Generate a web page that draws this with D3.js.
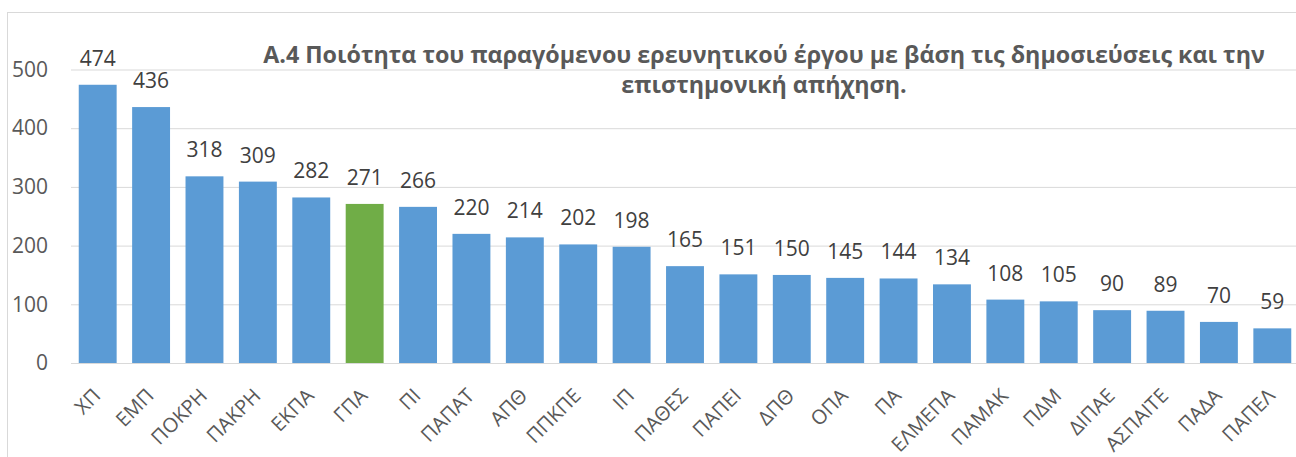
<!DOCTYPE html>
<html>
<head>
<meta charset="utf-8">
<script src="https://cdn.jsdelivr.net/npm/d3@7"></script>
<style>
  body { margin: 0; background: #fff; }
  svg { display: block; font-family: "Open Sans", sans-serif; }
</style>
</head>
<body>
<svg id="chart" width="1296" height="457"></svg>
<script>
// data
const categories = ["ΧΠ", "ΕΜΠ", "ΠΟΚΡΗ", "ΠΑΚΡΗ", "ΕΚΠΑ", "ΓΠΑ", "ΠΙ", "ΠΑΠΑΤ", "ΑΠΘ", "ΠΠΚΠΕ", "ΙΠ",
    "ΠΑΘΕΣ", "ΠΑΠΕΙ", "ΔΠΘ", "ΟΠΑ", "ΠΑ", "ΕΛΜΕΠΑ", "ΠΑΜΑΚ", "ΠΔΜ", "ΔΙΠΑΕ", "ΑΣΠΑΙΤΕ", "ΠΑΔΑ", "ΠΑΠΕΛ"];
const values = [474, 436, 318, 309, 282, 271, 266, 220, 214, 202, 198,
    165, 151, 150, 145, 144, 134, 108, 105, 90, 89, 70, 59];
const highlighted = ["ΓΠΑ"];
const yTicks = [0, 100, 200, 300, 400, 500];
const titleLines = ["Α.4 Ποιότητα του παραγόμενου ερευνητικού έργου με βάση τις δημοσιεύσεις και την",
    "επιστημονική απήχηση."];

const svg = d3.select("#chart");
const textColor = "#595959";

// chart area border (runs off the right and bottom edges)
svg.append("rect")
    .attr("x", 7.5).attr("y", 12.5)
    .attr("width", 1400).attr("height", 600)
    .attr("fill", "none")
    .attr("stroke", "#d9d9d9");

var x = d3.scaleBand()
    .domain(categories)
    .range([71, 1299])
    .paddingInner(0.29)
    .paddingOuter(0.145);

var y = d3.scaleLinear()
    .domain([0, 500])
    .range([363, 69.5]);

// gridlines + y labels
var yAxis = svg.append("g")
    .attr("transform", "translate(71,0)")
    .call(d3.axisLeft(y).tickValues(yTicks).tickSize(-1300).tickPadding(23));
yAxis.select(".domain").remove();
yAxis.selectAll(".tick line").attr("stroke", "#d9d9d9");
yAxis.selectAll(".tick text")
    .attr("fill", textColor)
    .style("font-size", "21px")
    .style("font-family", "'Open Sans', sans-serif");

// title (fitted to the width of the original)
var title = svg.append("g").attr("fill", textColor).attr("font-weight", "bold");
var t1 = title.append("text")
    .attr("x", 764).attr("y", 63)
    .attr("text-anchor", "middle")
    .style("font-size", "22px")
    .text(titleLines[0]);
var fs = 22 * 1002 / t1.node().getComputedTextLength();
t1.style("font-size", fs + "px");
title.append("text")
    .attr("x", 764).attr("y", 93)
    .attr("text-anchor", "middle")
    .style("font-size", fs + "px")
    .text(titleLines[1]);

// bars
svg.append("g")
    .selectAll("rect")
    .data(values)
    .enter().append("rect")
    .attr("x", function(d, i) { return x(categories[i]); })
    .attr("y", function(d) { return y(d); })
    .attr("width", x.bandwidth())
    .attr("height", function(d) { return y(0) - y(d); })
    .attr("fill", function(d, i) { return highlighted.includes(categories[i]) ? "#70ad47" : "#5b9bd5"; });

// value labels
svg.append("g")
    .selectAll("text")
    .data(values)
    .enter().append("text")
    .attr("x", function(d, i) { return x(categories[i]) + x.bandwidth() / 2; })
    .attr("y", function(d) { return y(d) - 19; })
    .attr("text-anchor", "middle")
    .attr("fill", "#404040")
    .style("font-size", "21px")
    .text(function(d) { return d; });

// category labels, rotated
svg.append("g")
    .selectAll("text")
    .data(categories)
    .enter().append("text")
    .attr("transform", function(d) {
        return "translate(" + (x(d) + x.bandwidth() / 2 + 4) + ",397) rotate(-45)";
    })
    .attr("text-anchor", "end")
    .attr("fill", textColor)
    .style("font-size", "20px")
    .text(function(d) { return d; });
</script>
</body>
</html>
